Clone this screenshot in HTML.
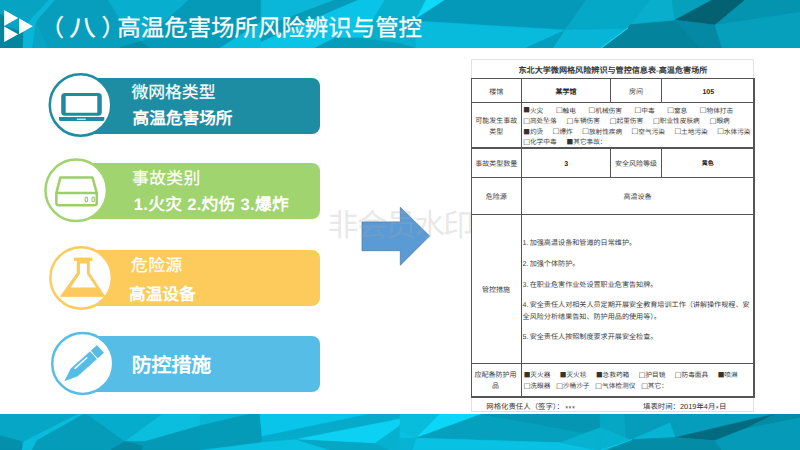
<!DOCTYPE html>
<html lang="zh-CN">
<head>
<meta charset="utf-8">
<title>（八）高温危害场所风险辨识与管控</title>
<style>
html,body{margin:0;padding:0;}
body{text-rendering:geometricPrecision;width:800px;height:450px;overflow:hidden;background:#fff;position:relative;font-family:"Liberation Sans",sans-serif;}
.abs{position:absolute;}
#hdr{left:0;top:0;width:800px;height:48px;}
#ftr{left:0;top:413.6px;width:800px;height:36.4px;}
#title{-webkit-text-stroke:0.25px #fff;left:47px;top:11.2px;height:34px;line-height:34px;font-size:23.45px;color:#fff;white-space:nowrap;}
#title span{position:relative;}
.bar{position:absolute;left:84px;width:236px;height:56px;border-radius:0 8px 8px 0;}
.t1{-webkit-text-stroke:0.2px #fff;position:absolute;color:#fff;font-size:16.8px;white-space:nowrap;line-height:20px;height:20px;}
.t2{position:absolute;color:#fff;font-size:16.67px;font-weight:bold;white-space:nowrap;line-height:20px;height:20px;}
#wm{left:327.5px;top:207.5px;font-size:31px;letter-spacing:-2.1px;line-height:36px;color:rgba(165,165,165,0.26);white-space:nowrap;}
#doc{left:471px;top:59px;width:283px;height:353px;background:#fff;border:1px solid #e2e2e2;box-sizing:border-box;}
.ln{position:absolute;background:#555;}
.c{position:absolute;font-size:7px;line-height:9px;height:9px;color:#3c3c3c;white-space:nowrap;transform:translate(-50%,calc(-50% + 0.6px));}
.l{position:absolute;font-size:7px;line-height:9px;height:9px;color:#3c3c3c;white-space:nowrap;transform:translate(0,calc(-50% + 0.6px));}
.p{font-size:7.1px;}
.p u{text-decoration:none;display:inline-block;width:7.1px;}
.ft{font-size:7.4px;color:#333;}
.l b{font-weight:normal;display:inline-block;font-size:6.67px;}
.l i{font-style:normal;font-size:9.4px;line-height:0;color:#1a1a1a;margin:0 0.55px 0 0.45px;position:relative;top:0.7px;}
.l i.f{font-size:11px;margin:0;top:0.75px;color:#333;}
.ttl{font-family:"Liberation Serif",serif;font-weight:bold;font-size:8.1px;color:#383838;line-height:11px;height:11px;}
.bd{font-weight:bold;color:#222;}
.g4{margin-right:12.7px;}
.g3{margin-right:10px;}
.g2{margin-right:5.9px;}
.g3b{margin-right:9.5px;}
</style>
</head>
<body>

<!-- header low-poly -->
<svg id="hdr" class="abs" viewBox="0 0 800 48" preserveAspectRatio="none" shape-rendering="geometricPrecision">
  <rect y="0" width="800" height="48" fill="#069ebc"/>
  <polygon points="0,0 50,0 33,18 23.5,33 18.7,31 4.2,26.2 4.2,16.5 0,14" fill="#06a4c2" stroke="#06a4c2" stroke-width="0.5"/>
  <polygon points="0,14 4.2,16.5 4.2,26.2 18.7,31 23.5,33 23,48 0,48" fill="#04859f" stroke="#04859f" stroke-width="0.5"/>
  <polygon points="49,0 54.5,0 37,20 32.5,48 23,48 23.5,30 33,17" fill="#0ab6d7" stroke="#0ab6d7" stroke-width="0.5"/>
  <polygon points="36,22 48,48 32.5,48" fill="#07a5c3" stroke="#07a5c3" stroke-width="0.5"/>
  <polygon points="108,0 189,0 142,42 125,27" fill="#08aecd" stroke="#08aecd" stroke-width="0.5"/>
  <polygon points="119,48 142,41 150,48" fill="#048da9" stroke="#048da9" stroke-width="0.5"/>
  <polygon points="189,0 262,0 262,21 220,48 150,48 142,42" fill="#059ab8" stroke="#059ab8" stroke-width="0.5"/>
  <polygon points="220,48 262,21 262,48" fill="#0abcde" stroke="#0abcde" stroke-width="0.5"/>
  <polygon points="261,0 335,0 261,28" fill="#0ab7d8" stroke="#0ab7d8" stroke-width="0.5"/>
  <polygon points="335,0 358,0 261,42 261,28" fill="#069bb9" stroke="#069bb9" stroke-width="0.5"/>
  <polygon points="358,0 385,0 362,38 335,38 315,48 261,48 261,42" fill="#0ac4e7" stroke="#0ac4e7" stroke-width="0.5"/>
  <polygon points="315,48 335,38 362,38 400,43 416,48" fill="#069dbb" stroke="#069dbb" stroke-width="0.5"/>
  <polygon points="385,0 426,0 416,19 416,48 400,43 362,38" fill="#08afcd" stroke="#08afcd" stroke-width="0.5"/>
  <polygon points="426,0 445,0 416,19" fill="#0fd9f8" stroke="#0fd9f8" stroke-width="0.5"/>
  <polygon points="445,0 586,0 565,30 416,21 416,19" fill="#0499b8" stroke="#0499b8" stroke-width="0.5"/>
  <polygon points="416,21 565,30 553,48 416,48" fill="#08badc" stroke="#08badc" stroke-width="0.5"/>
  <polygon points="586,0 650,0 631,24 627,29 565,30" fill="#06a8c7" stroke="#06a8c7" stroke-width="0.5"/>
  <polygon points="565,30 627,29 601,48 553,48" fill="#08b5d6" stroke="#08b5d6" stroke-width="0.5"/>
  <polygon points="631,24 675,20 700,48 603,48 627,29" fill="#04839c" stroke="#04839c" stroke-width="0.5"/>
  <polygon points="650,0 672,0 675,20 631,24" fill="#08aecc" stroke="#08aecc" stroke-width="0.5"/>
  <polygon points="672,0 712,0 675,20" fill="#06a0bd" stroke="#06a0bd" stroke-width="0.5"/>
  <polygon points="675,20 712,0 745,0 715,25" fill="#036172" stroke="#036172" stroke-width="0.5"/>
  <polygon points="675,20 715,25 722,48 700,48" fill="#0488a3" stroke="#0488a3" stroke-width="0.5"/>
  <polygon points="745,0 800,0 800,12 715,25" fill="#0594b0" stroke="#0594b0" stroke-width="0.5"/>
  <polygon points="715,25 800,12 800,48 722,48" fill="#06a0bd" stroke="#06a0bd" stroke-width="0.5"/>
  <polygon points="525,48 565,30 553,48" fill="#049fbf"/>
  <polyline points="601,48 628,28" stroke="#19e4ff" stroke-width="0.9" fill="none"/>
  <g fill="#fff"><polygon points="4.2,10.1 18.2,18 4.2,26"/><polygon points="4.2,26.4 18.2,34.2 4.2,42"/><polygon points="19.1,18.2 32.8,26.2 19.1,34.1"/></g>
</svg>

<!-- footer low-poly -->
<svg id="ftr" class="abs" viewBox="0 413 800 37" preserveAspectRatio="none" shape-rendering="geometricPrecision">
  <rect y="413" width="800" height="37" fill="#06a9c8"/>
  <polygon points="0,413 80,413 24,441 0,435" fill="#06a7c6" stroke="#06a7c6" stroke-width="0.5"/>
  <polygon points="0,435 22,441 22,450 0,450" fill="#0490ab" stroke="#0490ab" stroke-width="0.5"/>
  <polygon points="78,413 84,413 37,440 32,450 22,450 24,441" fill="#0abcdc" stroke="#0abcdc" stroke-width="0.5"/>
  <polygon points="84,413 87,413 125,441 110,450 32,450 37,440" fill="#049cb9" stroke="#049cb9" stroke-width="0.5"/>
  <polygon points="87,413 162,413 125,441" fill="#06accb" stroke="#06accb" stroke-width="0.5"/>
  <polygon points="162,413 200,413 200,425 145,441 125,441" fill="#0bbede" stroke="#0bbede" stroke-width="0.5"/>
  <polygon points="125,441 145,441 200,425 200,450 110,450" fill="#0499b6" stroke="#0499b6" stroke-width="0.5"/>
  <polygon points="110,450 125,441 142,445 142,450" fill="#0387a2" stroke="#0387a2" stroke-width="0.5"/>
  <polygon points="200,413 250,413 200,425" fill="#08b5d5" stroke="#08b5d5" stroke-width="0.5"/>
  <polygon points="200,425 250,413 260,413 262,442 200,450" fill="#049bb9" stroke="#049bb9" stroke-width="0.5"/>
  <polygon points="260,413 370,413 262,436" fill="#08c5e9" stroke="#08c5e9" stroke-width="0.5"/>
  <polygon points="262,436 370,413 400,413 400,418 295,439 262,442" fill="#06abcb" stroke="#06abcb" stroke-width="0.5"/>
  <polygon points="295,439 400,418 400,425 375,443" fill="#0cd1f3" stroke="#0cd1f3" stroke-width="0.5"/>
  <polygon points="295,439 375,443 390,450 330,450" fill="#06a6c5" stroke="#06a6c5" stroke-width="0.5"/>
  <polygon points="200,450 262,442 295,439 330,450" fill="#09c1e3" stroke="#09c1e3" stroke-width="0.5"/>
  <polygon points="375,443 400,425 400,450 390,450" fill="#06b1cf" stroke="#06b1cf" stroke-width="0.5"/>
  <polygon points="400,413 440,413 416,437.5 400,430" fill="#08bcdc" stroke="#08bcdc" stroke-width="0.5"/>
  <polygon points="440,413 482,413 416,437.5" fill="#0cd6f8" stroke="#0cd6f8" stroke-width="0.5"/>
  <polygon points="482,413 600,435 560,442 416,437.5" fill="#04a0be" stroke="#04a0be" stroke-width="0.5"/>
  <polygon points="482,413 600,413 600,435" fill="#0496b3" stroke="#0496b3" stroke-width="0.5"/>
  <polygon points="400,430 416,437.5 560,442 600,450 400,450" fill="#09c1e2" stroke="#09c1e2" stroke-width="0.5"/>
  <polygon points="400,438 416,437.5 412,450 400,450" fill="#07b4d4" stroke="#07b4d4" stroke-width="0.5"/>
  <polygon points="560,442 600,427 600,450" fill="#07b1d0" stroke="#07b1d0" stroke-width="0.5"/>
  <polygon points="600,413 625,413 626,437 600,427" fill="#06a6c5" stroke="#06a6c5" stroke-width="0.5"/>
  <polygon points="600,427 626,437 632,439 600,450" fill="#07b1d0" stroke="#07b1d0" stroke-width="0.5"/>
  <polygon points="625,413 775,413 675,437 632,439 626,437" fill="#059dbb" stroke="#059dbb" stroke-width="0.5"/>
  <polygon points="632,439 670,422 675,437" fill="#08b4d4" stroke="#08b4d4" stroke-width="0.5"/>
  <polygon points="675,437 775,413 745,428 715,440" fill="#036b7f" stroke="#036b7f" stroke-width="0.5"/>
  <polygon points="775,413 800,413 800,417 745,428" fill="#048ba6" stroke="#048ba6" stroke-width="0.5"/>
  <polygon points="632,439 675,437 715,440 722,450 605,450" fill="#048ba6" stroke="#048ba6" stroke-width="0.5"/>
  <polygon points="600,450 632,439 605,450" fill="#07b1d0" stroke="#07b1d0" stroke-width="0.5"/>
  <polygon points="715,440 745,428 800,417 800,450 722,450" fill="#059bb8" stroke="#059bb8" stroke-width="0.5"/>
  <polyline points="600,450 632,439" stroke="#13d7f5" stroke-width="0.6" fill="none"/>
</svg>

<div id="title" class="abs"><span style="left:-6.5px">（</span><span style="left:1px;display:inline-block;transform:scaleX(1.14)">八</span><span style="left:7.5px">）</span>高温危害场所风险辨识与管控</div>

<!-- box 1 -->
<div class="bar" style="top:78px;background:#1d8da3;"></div>
<div class="t1" style="left:131.5px;top:82.5px;">微网格类型</div>
<div class="t2" style="left:132.6px;top:108.5px;">高温危害场所</div>

<!-- box 2 -->
<div class="bar" style="top:162.5px;background:#9fd46e;"></div>
<div class="t1" style="left:132px;top:168.5px;letter-spacing:0.4px;">事故类别</div>
<div class="t2" style="left:133.8px;top:194.9px;letter-spacing:0.3px;">1.火灾 2.灼伤 3.爆炸</div>

<!-- box 3 -->
<div class="bar" style="top:249.5px;background:#fdcb5c;"></div>
<div class="t1" style="left:131px;top:255.7px;letter-spacing:0.5px;">危险源</div>
<div class="t2" style="left:129px;top:284.7px;">高温设备</div>

<!-- box 4 -->
<div class="bar" style="top:335.5px;background:#56bee6;"></div>
<div class="t2" style="left:131.7px;top:353.5px;font-size:19.9px;line-height:24px;height:24px;">防控措施</div>


<!-- icons -->
<svg class="abs" style="left:40px;top:65px;" width="90" height="335" viewBox="40 65 90 335">
  <g fill="#fff" stroke-width="2.5">
    <circle cx="80.5" cy="105" r="30.75" stroke="#1d8da3"/>
    <circle cx="76.2" cy="190.3" r="30.75" stroke="#9fd46e"/>
    <circle cx="81.1" cy="277.9" r="30.75" stroke="#fdcb5c"/>
    <circle cx="82.7" cy="363.4" r="30.5" stroke="#56bee6"/>
  </g>
  <!-- laptop -->
  <g fill="#1f8aa0">
    <rect x="61.2" y="93.1" width="40.6" height="22.7" rx="3.6"/>
    <rect x="65.7" y="96" width="31.6" height="16.8" rx="0.6" fill="#fff"/>
    <path d="M59,117 H104.3 V119.6 Q104.3,120.9 103,120.9 H60.3 Q59,120.9 59,119.6 Z"/>
    <rect x="76.8" y="118.4" width="9" height="1.5" rx="0.5" fill="#b9dbe3"/>
  </g>
  <!-- drive -->
  <g fill="#fff" stroke="#9ad066" stroke-width="2.5" stroke-linejoin="round">
    <path d="M60.4,177.4 L92.4,177.4 L96.75,192.9 L96.75,203 Q96.75,205.35 94.4,205.35 L58.7,205.35 Q56.35,205.35 56.35,203 L56.35,192.9 Z"/>
    <path d="M56.35,192.9 L96.75,192.9" fill="none"/>
    <ellipse cx="86.4" cy="199.4" rx="1.3" ry="2.3" stroke-width="1.1"/>
    <ellipse cx="93.2" cy="199.4" rx="1.3" ry="2.3" stroke-width="1.1"/>
  </g>
  <!-- flask -->
  <g fill="#fbc95c">
    <rect x="74" y="257.6" width="18.4" height="3.3"/>
    <polygon points="77.1,260.5 77.1,273 60.4,296.4 104.9,296.4 89.3,273 89.3,260.5" stroke="#fbc95c" stroke-width="0.8" stroke-linejoin="round"/>
    <polygon points="79.9,263.4 79.9,273.8 70.7,287.6 96,287.6 86.9,273.8 86.9,263.4" fill="#fff"/>
  </g>
  <!-- pencil -->
  <g transform="translate(64.9,380.7) rotate(-41.7)">
    <polygon points="0,0 12.5,-4.95 47.4,-4.95 47.4,4.95 12.5,4.95" fill="#55bde5" stroke="#55bde5" stroke-width="0.6" stroke-linejoin="round"/>
    <line x1="38.8" y1="-5.4" x2="38.8" y2="5.4" stroke="#fff" stroke-width="1"/>
    <line x1="15.8" y1="-2.5" x2="31.6" y2="-2.5" stroke="#fff" stroke-width="1.5" stroke-linecap="round"/>
  </g>
</svg>


<!-- arrow -->
<svg class="abs" style="left:355px;top:200px;" width="85" height="72" viewBox="355 200 85 72">
  <polygon points="362,221.9 400.3,221.9 400.3,207.2 429.6,236 400.3,265.2 400.3,250.7 362,250.7" fill="#5b9bd5" stroke="#4578a8" stroke-width="0.7"/>
</svg>


<!-- watermark -->
<div id="wm" class="abs">非会员水印</div>

<!-- document -->
<div id="doc" class="abs"></div>
<div id="tbl">
<!-- grid lines -->
<div class="ln" style="left:471px;top:77.8px;width:283.3px;height:1.4px;"></div>
<div class="ln" style="left:471px;top:101.5px;width:283.3px;height:1.4px;"></div>
<div class="ln" style="left:471px;top:147.3px;width:283.3px;height:1.4px;"></div>
<div class="ln" style="left:471px;top:177px;width:283.3px;height:1.4px;"></div>
<div class="ln" style="left:471px;top:213.5px;width:283.3px;height:1.4px;"></div>
<div class="ln" style="left:471px;top:363px;width:283.3px;height:1.4px;"></div>
<div class="ln" style="left:471px;top:396.3px;width:283.3px;height:1.4px;"></div>
<div class="ln" style="left:471px;top:78px;width:1.2px;height:319.5px;"></div>
<div class="ln" style="left:520.9px;top:78px;width:1.2px;height:319.5px;"></div>
<div class="ln" style="left:753.4px;top:78px;width:1.2px;height:319.5px;"></div>
<div class="ln" style="left:610px;top:78px;width:1.2px;height:24px;"></div>
<div class="ln" style="left:660.7px;top:78px;width:1.2px;height:24px;"></div>
<div class="ln" style="left:610px;top:148px;width:1.2px;height:30px;"></div>
<div class="ln" style="left:660.7px;top:148px;width:1.2px;height:30px;"></div>

<div class="c ttl" style="left:612.9px;top:70px;">东北大学微网格风险辨识与管控信息表-高温危害场所</div>

<div class="c" style="left:496.3px;top:92px;">楼馆</div>
<div class="c bd" style="left:566px;top:92px;">某学馆</div>
<div class="c" style="left:636px;top:92px;">房间</div>
<div class="c bd" style="left:708.3px;top:92px;">105</div>

<div class="c" style="left:496.2px;top:121.4px;">可能发生事故</div>
<div class="c" style="left:496.2px;top:131.8px;">类型</div>
<div class="l" style="left:523.3px;top:110.6px;"><b class="g4"><i class="f">■</i>火灾</b><b class="g4"><i>□</i>触电</b><b class="g4"><i>□</i>机械伤害</b><b class="g4"><i>□</i>中毒</b><b class="g4"><i>□</i>窒息</b><b><i>□</i>物体打击</b></div>
<div class="l" style="left:523.3px;top:121.4px;"><b class="g3"><i>□</i>高处坠落</b><b class="g3"><i>□</i>车辆伤害</b><b class="g3"><i>□</i>起重伤害</b><b class="g3"><i>□</i>职业性皮肤病</b><b><i>□</i>眼病</b></div>
<div class="l" style="left:523.3px;top:131.8px;"><b class="g3b"><i class="f">■</i>灼烫</b><b class="g3b"><i>□</i>爆炸</b><b class="g3b"><i>□</i>放射性疾病</b><b class="g3b"><i>□</i>空气污染</b><b class="g3b"><i>□</i>土地污染</b><b><i>□</i>水体污染</b></div>
<div class="l" style="left:523.3px;top:142px;"><b class="g3"><i>□</i>化学中毒</b><b><i class="f">■</i>其它事故：</b></div>

<div class="c" style="left:496.2px;top:163.7px;">事故类型数量</div>
<div class="c bd" style="left:566.2px;top:163.7px;">3</div>
<div class="c" style="left:636px;top:163.9px;">安全风险等级</div>
<div class="c bd" style="left:707.7px;top:164px;font-size:5.9px;color:#111;">黄色</div>

<div class="c" style="left:496.2px;top:197px;">危险源</div>
<div class="c" style="left:637.5px;top:197px;">高温设备</div>

<div class="c" style="left:496px;top:290.4px;">管控措施</div>
<div class="l p" style="left:522.6px;top:243px;"><u>1.</u>加强高温设备和管道的日常维护。</div>
<div class="l p" style="left:522.6px;top:264px;"><u>2.</u>加强个体防护。</div>
<div class="l p" style="left:522.6px;top:285px;"><u>3.</u>在职业危害作业处设置职业危害告知牌。</div>
<div class="l p" style="left:522.6px;top:305.3px;"><u>4.</u>安全责任人对相关人员定期开展安全教育培训工作（讲解操作规程、安</div>
<div class="l p" style="left:522.6px;top:316.5px;">全风险分析结果告知、防护用品的使用等）。</div>
<div class="l p" style="left:522.6px;top:337px;"><u>5.</u>安全责任人按照制度要求开展安全检查。</div>

<div class="c" style="left:495.5px;top:375.2px;">应配备防护用</div>
<div class="c" style="left:495.5px;top:386px;">品</div>
<div class="l" style="left:523.7px;top:375.2px;"><b class="g3b"><i class="f">■</i>灭火器</b><b class="g3b"><i class="f">■</i>灭火毯</b><b class="g3b"><i class="f">■</i>急救药箱</b><b class="g3b"><i>□</i>护目镜</b><b class="g3b"><i>□</i>防毒面具</b><b><i class="f">■</i>喷淋</b></div>
<div class="l" style="left:523.7px;top:386px;"><b class="g2"><i>□</i>洗眼器</b><b class="g2"><i>□</i>沙桶沙子</b><b class="g2"><i>□</i>气体检测仪</b><b><i>□</i>其它：</b></div>

<div class="l ft" style="left:486.3px;top:406.3px;">网格化责任人（签字）：<span style="letter-spacing:0.5px;margin-left:1.3px;position:relative;top:1.3px">***</span></div>
<div class="l ft" style="left:643px;top:406.3px;">填表时间：2019年4月<span style="position:relative;top:1.3px;margin:0 0.4px">*</span>日</div>
</div>

</body>
</html>
